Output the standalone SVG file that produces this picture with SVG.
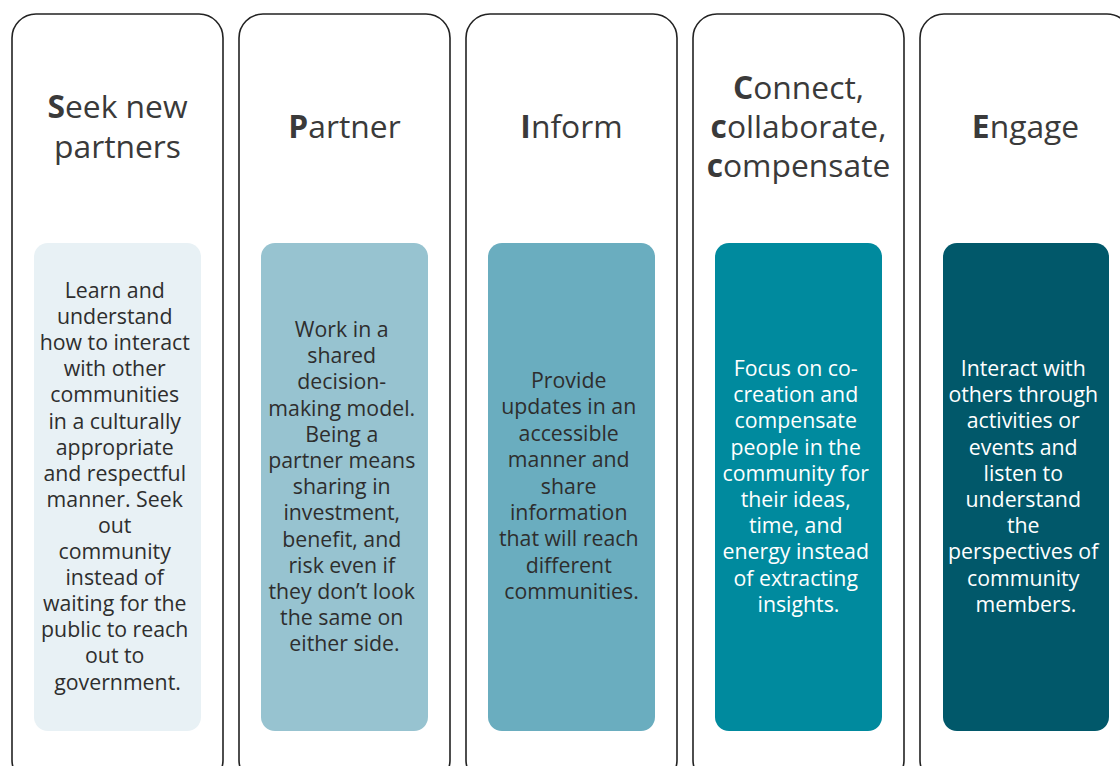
<svg xmlns="http://www.w3.org/2000/svg" width="1120" height="766" viewBox="0 0 1120 766">
  <style>
    .card { fill: #ffffff; stroke: #222222; stroke-width: 1.6; }
    .title { font-family: "Open Sans", "Noto Sans", sans-serif; font-size: 31.8px; fill: #3a3a3a; text-anchor: middle; }
    .title tspan.b { font-weight: 700; }
    .body { font-family: "Open Sans", "Noto Sans", sans-serif; font-size: 21.3px; text-anchor: middle; }
    .dark { fill: #2e2e2e; }
    .light { fill: #ffffff; }
  </style>
  <rect width="1120" height="766" fill="#ffffff"/>

  <!-- Seek -->
  <g id="seek">
    <rect class="card" x="12" y="14" width="211" height="770" rx="24"/>
    <text class="title" x="117.5" y="118"><tspan class="b">S</tspan>eek new</text>
    <text class="title" x="117.5" y="158">partners</text>
    <rect x="34" y="243" width="167" height="488" rx="14" fill="#e8f1f5"/>
    <text class="body dark" x="117.5" y="298">
      <tspan x="117.5" dy="0">Learn and</tspan>
      <tspan x="117.5" dy="26.1">understand</tspan>
      <tspan x="117.5" dy="26.1">how to interact</tspan>
      <tspan x="117.5" dy="26.1">with other</tspan>
      <tspan x="117.5" dy="26.1">communities</tspan>
      <tspan x="117.5" dy="26.1">in a culturally</tspan>
      <tspan x="117.5" dy="26.1">appropriate</tspan>
      <tspan x="117.5" dy="26.1">and respectful</tspan>
      <tspan x="117.5" dy="26.1">manner. Seek</tspan>
      <tspan x="117.5" dy="26.1">out</tspan>
      <tspan x="117.5" dy="26.1">community</tspan>
      <tspan x="117.5" dy="26.1">instead of</tspan>
      <tspan x="117.5" dy="26.1">waiting for the</tspan>
      <tspan x="117.5" dy="26.1">public to reach</tspan>
      <tspan x="117.5" dy="26.1">out to</tspan>
      <tspan x="117.5" dy="26.1">government.</tspan>
    </text>
  </g>

  <!-- Partner -->
  <g id="partner">
    <rect class="card" x="239" y="14" width="211" height="770" rx="24"/>
    <text class="title" x="344.5" y="138"><tspan class="b">P</tspan>artner</text>
    <rect x="261" y="243" width="167" height="488" rx="14" fill="#97c3d0"/>
    <text class="body dark" x="344.5" y="337">
      <tspan x="344.5" dy="0">Work in a</tspan>
      <tspan x="344.5" dy="26.2">shared</tspan>
      <tspan x="344.5" dy="26.2">decision-</tspan>
      <tspan x="344.5" dy="26.2">making model.</tspan>
      <tspan x="344.5" dy="26.2">Being a</tspan>
      <tspan x="344.5" dy="26.2">partner means</tspan>
      <tspan x="344.5" dy="26.2">sharing in</tspan>
      <tspan x="344.5" dy="26.2">investment,</tspan>
      <tspan x="344.5" dy="26.2">benefit, and</tspan>
      <tspan x="344.5" dy="26.2">risk even if</tspan>
      <tspan x="344.5" dy="26.2">they don’t look</tspan>
      <tspan x="344.5" dy="26.2">the same on</tspan>
      <tspan x="344.5" dy="26.2">either side.</tspan>
    </text>
  </g>

  <!-- Inform -->
  <g id="inform">
    <rect class="card" x="466" y="14" width="211" height="770" rx="24"/>
    <text class="title" x="571.5" y="138"><tspan class="b">I</tspan>nform</text>
    <rect x="488" y="243" width="167" height="488" rx="14" fill="#6aadbf"/>
    <text class="body dark" x="571.5" y="388">
      <tspan x="571.5" dy="0">Provide</tspan>
      <tspan x="571.5" dy="26.4">updates in an</tspan>
      <tspan x="571.5" dy="26.4">accessible</tspan>
      <tspan x="571.5" dy="26.4">manner and</tspan>
      <tspan x="571.5" dy="26.4">share</tspan>
      <tspan x="571.5" dy="26.4">information</tspan>
      <tspan x="571.5" dy="26.4">that will reach</tspan>
      <tspan x="571.5" dy="26.4">different</tspan>
      <tspan x="571.5" dy="26.4">communities.</tspan>
    </text>
  </g>

  <!-- Connect, collaborate, compensate -->
  <g id="connect">
    <rect class="card" x="693" y="14" width="211" height="770" rx="24"/>
    <text class="title" x="798.5" y="99"><tspan class="b">C</tspan>onnect,</text>
    <text class="title" x="798.5" y="138"><tspan class="b">c</tspan>ollaborate,</text>
    <text class="title" x="798.5" y="177"><tspan class="b">c</tspan>ompensate</text>
    <rect x="715" y="243" width="167" height="488" rx="14" fill="#008a9e"/>
    <text class="body light" x="798.5" y="376">
      <tspan x="798.5" dy="0">Focus on co-</tspan>
      <tspan x="798.5" dy="26.2">creation and</tspan>
      <tspan x="798.5" dy="26.2">compensate</tspan>
      <tspan x="798.5" dy="26.2">people in the</tspan>
      <tspan x="798.5" dy="26.2">community for</tspan>
      <tspan x="798.5" dy="26.2">their ideas,</tspan>
      <tspan x="798.5" dy="26.2">time, and</tspan>
      <tspan x="798.5" dy="26.2">energy instead</tspan>
      <tspan x="798.5" dy="26.2">of extracting</tspan>
      <tspan x="798.5" dy="26.2">insights.</tspan>
    </text>
  </g>

  <!-- Engage -->
  <g id="engage">
    <rect class="card" x="920" y="14" width="211" height="770" rx="24"/>
    <text class="title" x="1025.5" y="138"><tspan class="b">E</tspan>ngage</text>
    <rect x="943" y="243" width="166" height="488" rx="14" fill="#01586a"/>
    <text class="body light" x="1026" y="376">
      <tspan x="1026" dy="0">Interact with</tspan>
      <tspan x="1026" dy="26.2">others through</tspan>
      <tspan x="1026" dy="26.2">activities or</tspan>
      <tspan x="1026" dy="26.2">events and</tspan>
      <tspan x="1026" dy="26.2">listen to</tspan>
      <tspan x="1026" dy="26.2">understand</tspan>
      <tspan x="1026" dy="26.2">the</tspan>
      <tspan x="1026" dy="26.2">perspectives of</tspan>
      <tspan x="1026" dy="26.2">community</tspan>
      <tspan x="1026" dy="26.2">members.</tspan>
    </text>
  </g>

  <g id="connectors"></g>
</svg>
